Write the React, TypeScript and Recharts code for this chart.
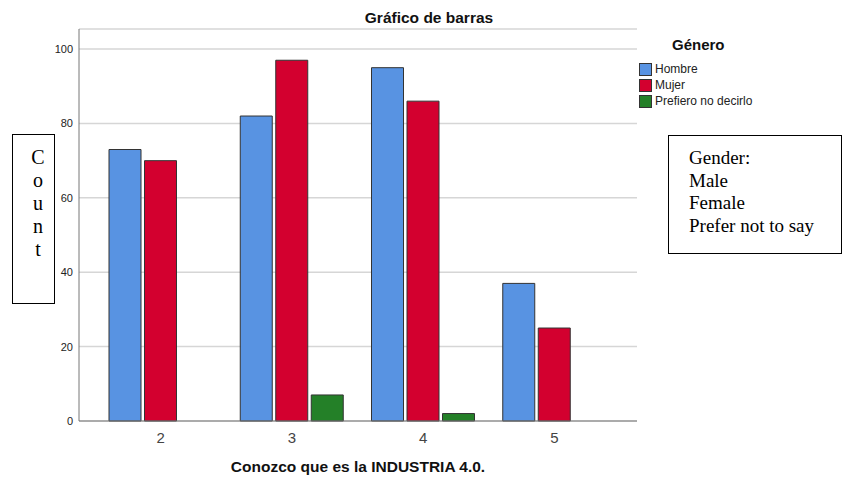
import React from 'react';
import { BarChart, Bar, XAxis, YAxis, CartesianGrid } from 'recharts';

const categories = ['2', '3', '4', '5'];
const hombre = [73, 82, 95, 37];
const mujer = [70, 97, 86, 25];
const prefiero = [null, 7, 2, null];
const yTicks = [0, 20, 40, 60, 80, 100];
const seriesNames = ['Hombre', 'Mujer', 'Prefiero no decirlo'];
const seriesColors = ['#5893E2', '#D3002F', '#248028'];
const countLetters = ['C', 'o', 'u', 'n', 't'];
const genderLines = ['Gender:', 'Male', 'Female', 'Prefer not to say'];

const data = categories.map((c, i) => ({
  cat: c,
  h: hombre[i],
  m: mujer[i],
  p: prefiero[i],
}));

const FONT = '"Liberation Sans", Arial, sans-serif';
const SERIF = '"Liberation Serif", "Times New Roman", serif';

const LegendBox = () => (
  <div style={{ position: 'absolute', left: 639, top: 36, width: 200, fontFamily: FONT }}>
    <div style={{ fontWeight: 'bold', fontSize: 15, lineHeight: '18px', marginLeft: 33, color: '#111', marginBottom: 7 }}>
      Género
    </div>
    {seriesNames.map((n, i) => (
      <div key={n} style={{ display: 'flex', alignItems: 'center', height: 16 }}>
        <span
          style={{
            display: 'inline-block',
            width: 11,
            height: 11,
            background: seriesColors[i],
            border: '1px solid #333',
            marginRight: 3,
          }}
        />
        <span style={{ fontSize: 12, color: '#222' }}>{n}</span>
      </div>
    ))}
  </div>
);

export default function App() {
  return (
    <div style={{ position: 'absolute', left: 0, top: 0, width: 842, height: 477, background: '#fff', fontFamily: FONT }}>
      <BarChart
        width={842}
        height={477}
        data={data}
        margin={{ top: 29, right: 205, bottom: 0, left: 0 }}
        barGap={3.5}
        barSize={32}
      >
        <CartesianGrid horizontal vertical={false} stroke="#d6d6d6" strokeWidth={1.5} />
        <XAxis
          dataKey="cat"
          height={56}
          padding={{ left: 16, right: 17 }}
          axisLine={{ stroke: '#777' }}
          tickLine={false}
          tickSize={0}
          tickMargin={11}
          tick={{ fontSize: 15, fill: '#444', fontFamily: FONT }}
        />
        <YAxis
          width={79}
          domain={[0, 105.4]}
          ticks={yTicks}
          interval={0}
          axisLine={{ stroke: '#777' }}
          tickLine={false}
          tickSize={0}
          tickMargin={6}
          tick={{ fontSize: 11, fill: '#222', fontFamily: FONT }}
        />
        <Bar dataKey="h" name={seriesNames[0]} fill={seriesColors[0]} stroke="#333" strokeWidth={1} isAnimationActive={false} />
        <Bar dataKey="m" name={seriesNames[1]} fill={seriesColors[1]} stroke="#333" strokeWidth={1} isAnimationActive={false} />
        <Bar dataKey="p" name={seriesNames[2]} fill={seriesColors[2]} stroke="#333" strokeWidth={1} isAnimationActive={false} />
      </BarChart>

      <LegendBox />

      <div
        style={{
          position: 'absolute',
          left: 279,
          width: 300,
          top: 8,
          textAlign: 'center',
          fontWeight: 'bold',
          fontSize: 15.5,
          lineHeight: '19px',
          color: '#111',
        }}
      >
        Gráfico de barras
      </div>

      <div
        style={{
          position: 'absolute',
          left: 158,
          width: 400,
          top: 457,
          textAlign: 'center',
          fontWeight: 'bold',
          fontSize: 15.5,
          lineHeight: '19px',
          color: '#111',
        }}
      >
        Conozco que es la INDUSTRIA 4.0.
      </div>

      <div
        style={{
          position: 'absolute',
          left: 12,
          top: 134,
          width: 41,
          height: 168,
          border: '1px solid #000',
          background: '#fff',
          fontFamily: SERIF,
          fontSize: 20,
          color: '#000',
        }}
      >
        {countLetters.map((l, i) => (
          <div key={i} style={{ position: 'absolute', left: 0, width: 50, textAlign: 'center', top: 11 + i * 23, lineHeight: '23px' }}>
            {l}
          </div>
        ))}
      </div>

      <div
        style={{
          position: 'absolute',
          left: 668,
          top: 135,
          width: 172,
          height: 117,
          border: '1px solid #000',
          background: '#fff',
          fontFamily: SERIF,
          fontSize: 19,
          color: '#000',
        }}
      >
        {genderLines.map((l, i) => (
          <div key={i} style={{ position: 'absolute', left: 20, top: 11 + i * 22.5, lineHeight: '22px', whiteSpace: 'nowrap' }}>
            {l}
          </div>
        ))}
      </div>
    </div>
  );
}
